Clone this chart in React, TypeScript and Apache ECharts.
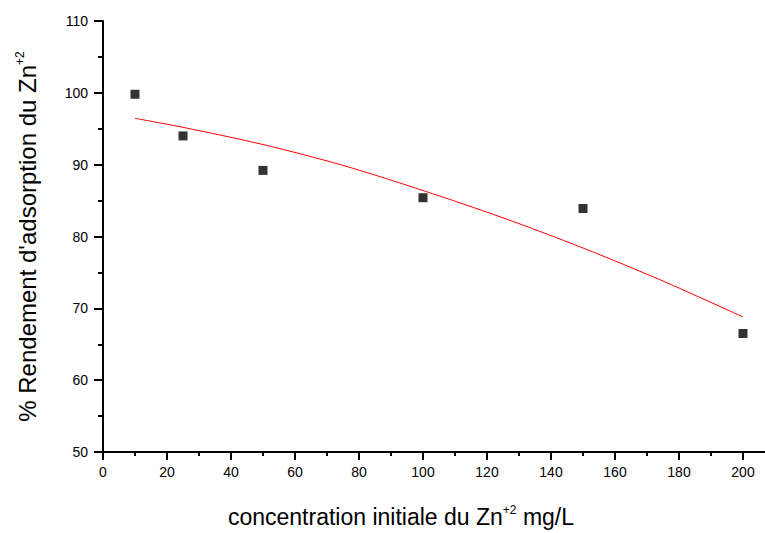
import React, { useEffect, useRef } from "react";
import * as echarts from "echarts";

// Experimental data: initial Zn2+ concentration (mg/L) vs adsorption yield (%)
const concentrations = [10, 25, 50, 100, 150, 200];
const yields = [99.8, 94.0, 89.2, 85.4, 83.9, 66.5];

// Fitted curve (red)
const fitX = [10, 25, 50, 75, 100, 125, 150, 175, 200];
const fitY = [96.45, 95.2, 92.8, 89.9, 86.4, 82.6, 78.4, 73.8, 68.8];

const xTitle = "{t|concentration initiale du Zn}{sup|+2}{t| mg/L}";
const yTitle = "{t|% Rendement d'adsorption du Zn}{sup|+2}";

const FONT = "'Liberation Sans', Arial, Helvetica, sans-serif";

function richFor(size: number, lh: number, supPad: number) {
  return {
    t: {
      fontFamily: FONT,
      fontSize: size,
      color: "#000",
      lineHeight: lh,
      verticalAlign: "bottom",
    },
    sup: {
      fontFamily: FONT,
      fontSize: 12,
      color: "#000",
      lineHeight: 12,
      padding: [0, 0, supPad, 0],
      verticalAlign: "top",
    },
  };
}

export default function App() {
  const ref = useRef<HTMLDivElement>(null);

  useEffect(() => {
    if (!ref.current) return;
    const chart = echarts.init(ref.current, undefined, { renderer: "svg" });

    const axisLine = { show: true, onZero: false, lineStyle: { color: "#000", width: 2 } };

    chart.setOption({
      animation: false,
      backgroundColor: "#fff",
      grid: { left: 103, right: 0, top: 21, bottom: 78, containLabel: false },
      xAxis: {
        type: "value",
        min: 0,
        max: 210,
        interval: 20,
        axisLine,
        axisTick: { show: true, inside: false, length: 8, lineStyle: { color: "#000", width: 2 } },
        minorTick: { show: true, splitNumber: 2, length: 4, lineStyle: { color: "#000", width: 2 } },
        splitLine: { show: false },
        minorSplitLine: { show: false },
        axisLabel: {
          color: "#000",
          fontFamily: FONT,
          fontSize: 14,
          margin: 13,
          showMaxLabel: false,
        },
        name: xTitle,
        nameLocation: "middle",
        nameGap: 52,
        nameTextStyle: { rich: richFor(23, 24, 12), padding: [0, 76, 0, 0] },
      },
      yAxis: {
        type: "value",
        min: 50,
        max: 110,
        interval: 10,
        axisLine,
        axisTick: { show: true, inside: false, length: 9, lineStyle: { color: "#000", width: 2 } },
        minorTick: { show: true, splitNumber: 2, length: 5, lineStyle: { color: "#000", width: 2 } },
        splitLine: { show: false },
        minorSplitLine: { show: false },
        axisLabel: {
          color: "#000",
          fontFamily: FONT,
          fontSize: 14,
          margin: 15,
        },
        name: yTitle,
        nameLocation: "middle",
        nameRotate: 90,
        nameGap: 64,
        nameTextStyle: { rich: richFor(24, 25, 13) },
      },
      series: [
        {
          type: "line",
          data: fitX.map((x, i) => [x, fitY[i]]),
          smooth: 0.3,
          showSymbol: false,
          symbol: "none",
          lineStyle: { color: "#ff0000", width: 1 },
          z: 2,
        },
        {
          type: "scatter",
          data: concentrations.map((x, i) => [x, yields[i]]),
          symbol: "rect",
          symbolSize: 9,
          itemStyle: { color: "#000" },
          z: 3,
        },
      ],
    });

    return () => chart.dispose();
  }, []);

  return (
    <div
      style={{
        position: "fixed",
        left: 0,
        top: 0,
        width: 765,
        height: 533,
        overflow: "hidden",
        background: "#fff",
      }}
    >
      <div ref={ref} style={{ width: 775, height: 533 }} />
    </div>
  );
}
